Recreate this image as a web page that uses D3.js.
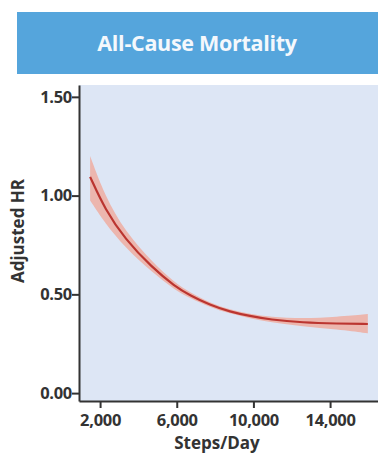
<!DOCTYPE html>
<html>
<head>
<meta charset="utf-8">
<script src="https://cdn.jsdelivr.net/npm/d3@7"></script>
<style>
  body { margin: 0; background: #fff; }
  svg { display: block; font-family: "Open Sans", "Noto Sans", sans-serif; }
</style>
</head>
<body>
<script>
// values
const steps = [1480, 2260, 3300, 4710, 5910, 6690, 7730, 8780, 9820, 10860, 12580, 14360, 15970];
const hr    = [1.095, 0.930, 0.780, 0.636, 0.540, 0.495, 0.446, 0.412, 0.390, 0.372, 0.357, 0.352, 0.350];
const upper = [1.20, 0.995, 0.820, 0.664, 0.558, 0.510, 0.457, 0.422, 0.401, 0.386, 0.377, 0.386, 0.400];
const lower = [0.975, 0.860, 0.738, 0.612, 0.522, 0.481, 0.436, 0.402, 0.379, 0.359, 0.338, 0.322, 0.303];
const xTicks = [2000, 6000, 10000, 14000];
const yTicks = [0, 0.5, 1.0, 1.5];
const title = "All-Cause Mortality";

const width = 378, height = 453;
const plot = { left: 79, right: 378, top: 85, bottom: 401 };

const data = steps.map(function (s, i) {
  return { x: s, y: hr[i], lo: lower[i], hi: upper[i] };
});

const svg = d3.select("body").append("svg")
  .attr("width", width)
  .attr("height", height);

// title banner
svg.append("rect")
  .attr("x", 17).attr("y", 12)
  .attr("width", width - 17).attr("height", 62)
  .attr("fill", "#55a5dc");
svg.append("text")
  .attr("x", 197).attr("y", 51)
  .attr("text-anchor", "middle")
  .attr("fill", "#f4f8fc")
  .style("font-size", "21.5px")
  .style("font-weight", "bold")
  .style("letter-spacing", "-0.3px")
  .text(title);

const x = d3.scaleLinear().domain([900, 16500]).range([plot.left, plot.right]);
const y = d3.scaleLinear().domain([-0.04, 1.56]).range([plot.bottom, plot.top]);

// plot background
svg.append("rect")
  .attr("x", plot.left).attr("y", plot.top)
  .attr("width", plot.right - plot.left)
  .attr("height", plot.bottom - plot.top)
  .attr("fill", "#dde6f5");

// confidence band
const band = d3.area()
  .x(function (d) { return x(d.x); })
  .y0(function (d) { return y(d.lo); })
  .y1(function (d) { return y(d.hi); })
  .curve(d3.curveBasis);

svg.append("path")
  .datum(data)
  .attr("d", band)
  .attr("fill", "#f0a596")
  .attr("fill-opacity", 0.75);

const line = d3.line()
  .x(function (d) { return x(d.x); })
  .y(function (d) { return y(d.y); })
  .curve(d3.curveBasis);

svg.append("path")
  .datum(data)
  .attr("d", line)
  .attr("fill", "none")
  .attr("stroke", "#bb3530")
  .attr("stroke-width", 2.2);

// axes
const xAxis = svg.append("g")
  .attr("transform", "translate(0," + plot.bottom + ")")
  .call(d3.axisBottom(x).tickValues(xTicks).tickFormat(d3.format(",")).tickSize(7).tickSizeOuter(0));

const yAxis = svg.append("g")
  .attr("transform", "translate(" + plot.left + ",0)")
  .call(d3.axisLeft(y).tickValues(yTicks).tickFormat(d3.format(".2f")).tickSize(7).tickSizeOuter(0));

[xAxis, yAxis].forEach(function (g) {
  g.select(".domain").attr("stroke", "#333").attr("stroke-width", 2);
  g.selectAll(".tick line").attr("stroke", "#333").attr("stroke-width", 2);
  g.selectAll(".tick text")
    .attr("fill", "#333")
    .style("font-family", "'Open Sans', sans-serif")
    .style("font-size", "16.5px")
    .style("font-weight", "bold")
    .style("letter-spacing", "-0.3px");
});
xAxis.selectAll(".tick text").attr("dy", "1.0em").attr("y", 8);
yAxis.selectAll(".tick text").attr("x", -7);

// axis titles
svg.append("text")
  .attr("x", 217).attr("y", 449)
  .attr("text-anchor", "middle")
  .attr("fill", "#333")
  .style("font-size", "17px")
  .style("font-weight", "bold")
  .text("Steps/Day");

svg.append("text")
  .attr("transform", "translate(24,231) rotate(-90)")
  .attr("text-anchor", "middle")
  .attr("fill", "#333")
  .style("font-size", "17px")
  .style("font-weight", "bold")
  .text("Adjusted HR");
</script>
</body>
</html>
